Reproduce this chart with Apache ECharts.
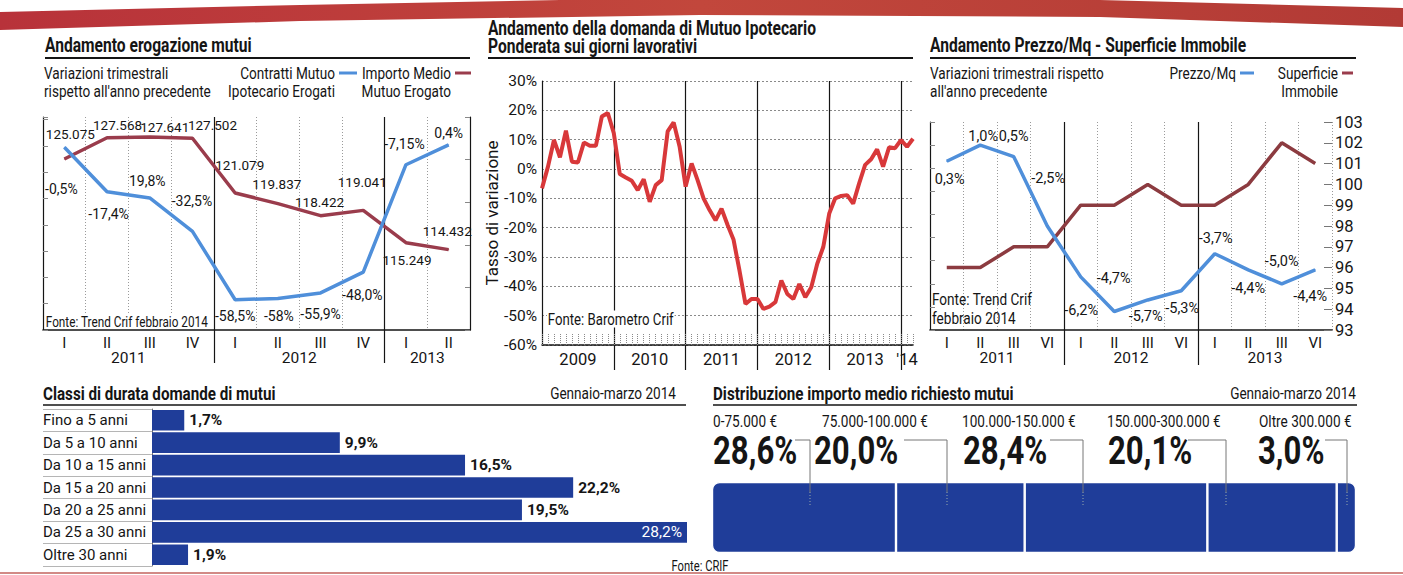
<!DOCTYPE html>
<html>
<head>
<meta charset="utf-8">
<title>Mutui - Trend CRIF</title>
<script src="https://cdn.jsdelivr.net/npm/echarts@6/dist/echarts.min.js"></script>
<style>
html, body { margin: 0; padding: 0; background: #fff; }
#chart { width: 1403px; height: 575px; }
</style>
</head>
<body>
<div id="chart"></div>
<script>
// --- dati: Andamento erogazione mutui
const quarters1 = ['I', 'II', 'III', 'IV', 'I', 'II', 'III', 'IV', 'I', 'II']
const years1 = ['', '', '2011', '', '', '', '2012', '', '', '2013', '']
const contratti = [-0.5, -17.4, -19.8, -32.5, -58.5, -58, -55.9, -48.0, -7.15, 0.4]
const contrattiText = ['-0,5%', '-17,4%', '19,8%', '-32,5%', '-58,5%', '-58%', '-55,9%', '-48,0%', '-7,15%', '0,4%']
const importo = [125075, 127568, 127641, 127502, 121079, 119837, 118422, 119041, 115249, 114432]

// --- dati: domanda di mutuo ipotecario (mensile)
const domandaYears = ['2009', '2010', '2011', '2012', '2013', "'14"]
const d2009 = [-6.6, 0.8, 9.9, 4.0, 13.1, 2.5, 2.2, 9.0, 7.9, 7.9, 17.9, 19.1]
const d2010 = [12.2, -1.7, -2.9, -4.0, -7.2, -3.5, -11.2, -5.5, -3.8, 12.8, 15.9, 7.6]
const d2011 = [-6.0, 1.9, -3.8, -10.0, -14.0, -17.5, -13.5, -19.0, -24.0, -34.6, -46.0, -44.3]
const d2012 = [-44.3, -47.7, -46.9, -45.4, -38.0, -42.6, -44.3, -39.2, -43.7, -40.3, -32.3, -26.6]
const d2013 = [-15.2, -10.0, -9.2, -8.9, -11.8, -4.9, 1.4, 3.3, 6.7, 0.8, 7.4, 7.1]
const d2014 = [9.9, 7.6, 10.3]

// --- dati: Prezzo/Mq - Superficie
const quarters3 = ['I', 'II', 'III', 'VI', 'I', 'II', 'III', 'VI', 'I', 'II', 'III', 'VI']
const years3 = ['', '', '2011', '', '', '', '2012', '', '', '', '2013', '', '']
const prezzo = [0.3, 1.0, 0.5, -2.5, -4.7, -6.2, -5.7, -5.3, -3.7, -4.4, -5.0, -4.4]
const superficie = [96, 96, 97, 97, 99, 99, 100, 99, 99, 100, 102, 101]

// --- dati: classi di durata
const durataCats = ['Fino a 5 anni', 'Da 5 a 10 anni', 'Da 10 a 15 anni', 'Da 15 a 20 anni', 'Da 20 a 25 anni', 'Da 25 a 30 anni', 'Oltre 30 anni']
const durataValues = [1.7, 9.9, 16.5, 22.2, 19.5, 28.2, 1.9]

// --- dati: distribuzione importo
const importoCats = ['0-75.000 €', '75.000-100.000 €', '100.000-150.000 €', '150.000-300.000 €', 'Oltre 300.000 €']
const importoShare = [28.6, 20.0, 28.4, 20.1, 3.0]

// posizioni delle etichette (solo stile)
const contrattiOff = [[-3, 42], [1.5, 22], [-2.5, -17], [-0.5, -30], [0, 16], [1, 17.5], [0, 20.6], [-1, 22.4], [-1.5, -21], [0, -11.4]]
const importoOff = [[6, -24.5], [10.5, -12.7], [15, -9.6], [20, -12.8], [4.6, -28.5], [-1, -20], [-1, -14], [-1, -28], [1, 17.3], [-1.4, -18.6]]
const prezzoOff = [[3, 18], [3, -9], [0, -20], [1, -48], [33, 2], [-33, -1.5], [-2, 16.5], [1, 18], [1, -15], [0, 18.6], [0, -22], [-5, 26.6]]
const distribTextX = [713, 822, 962, 1107, 1259]
const distribNumX = [713, 814, 963, 1108, 1258]
const distribLead = [[795, 810], [904, 947], [1050, 1083], [1188, 1226], [1325, 1347]]

const FONT = 'Roboto, "Liberation Sans", sans-serif'
const INK = '#151515'
const BLUE = '#4f8fda'
const MAROON = '#9a3c4c'
const NAVY = '#1f3d99'

const fmtPct = v => v.toFixed(1).replace('.', ',') + '%'
const fmtEuro = v => String(Math.floor(v / 1000)) + '.' + String(v % 1000).padStart(3, '0')

const months = []
domandaYears.forEach((y, i) => {
  const n = [d2009, d2010, d2011, d2012, d2013, d2014][i].length
  for (let m = 0; m < n; m++) months.push(y + '-' + (m + 1))
})
const domanda = [].concat(d2009, d2010, d2011, d2012, d2013, d2014)

// indici di inizio anno (per le linee verticali nere)
const yearStart = labels => (i) => i > 0 && i < labels.length && labels[i] === 'I'
const yearBoundary1 = yearStart(quarters1)
const yearBoundary3 = yearStart(quarters3)
const janIndex = (i) => i > 0 && i % 12 === 0

function yearLabel2(value, index) {
  const y = Math.floor(index / 12)
  const start = y * 12
  const count = Math.min(12, months.length - start)
  return index === start + Math.floor(count / 2) ? domandaYears[y] : ''
}

// testo condensato: font alto, compresso in orizzontale
function txt(x, y, text, o = {}) {
  return {
    type: 'text', x, y, z: 20, silent: true, scaleX: o.sx || 0.8,
    style: {
      text,
      font: (o.w || 'normal') + ' ' + (o.s || 17) + 'px ' + FONT,
      fill: o.c || INK,
      align: o.a || 'left',
      verticalAlign: 'middle',
      backgroundColor: o.bg,
      padding: o.bg ? [0, 1, 0, 1] : 0
    }
  }
}
function line(x1, y1, x2, y2, color = INK, w = 2, dash) {
  return { type: 'line', z: 20, silent: true, shape: { x1, y1, x2, y2 }, style: { stroke: color, lineWidth: w, lineDash: dash } }
}

const lbl = { fontFamily: FONT, fontSize: 14, color: INK }
const dotted = { color: '#9a9a9a', type: [1, 2], width: 1 }
const black = { color: INK, width: 1.2 }

const graphics = [
  // banda rossa in alto
  { type: 'polygon', silent: true, z: 1,
    shape: { points: [[0, 12], [300, 5], [560, 0], [1100, 0], [1403, 8], [1403, 27], [1100, 17], [700, 15], [300, 21], [0, 30]] },
    style: { fill: new echarts.graphic.LinearGradient(0, 0, 1, 0, [{ offset: 0, color: '#b8323a' }, { offset: 0.5, color: '#c2473c' }, { offset: 1, color: '#b23a35' }]) } },
  line(0, 573, 1403, 573, '#d28a86', 2),

  // grafico 1
  txt(45, 45, 'Andamento erogazione mutui', { w: 'bold', s: 19.5 }),
  line(45, 58, 470, 58),
  txt(44, 73, 'Variazioni trimestrali'),
  txt(44, 91, "rispetto all'anno precedente"),
  txt(335, 73, 'Contratti Mutuo', { a: 'right' }),
  txt(335, 91, 'Ipotecario Erogati', { a: 'right' }),
  line(339, 73, 357, 73, BLUE, 3),
  txt(451, 73, 'Importo Medio', { a: 'right' }),
  txt(451, 91, 'Mutuo Erogato', { a: 'right' }),
  line(455, 73, 471, 73, MAROON, 3),
  txt(45, 321, 'Fonte: Trend Crif febbraio 2014', { s: 15.5, sx: 0.76, bg: '#fff' }),

  // grafico 2
  txt(488, 28, 'Andamento della domanda di Mutuo Ipotecario', { w: 'bold', s: 19.5 }),
  txt(488, 46, 'Ponderata sui giorni lavorativi', { w: 'bold', s: 19.5 }),
  line(488, 58, 913, 58),
  txt(547, 319, 'Fonte: Barometro Crif', { s: 16.5, bg: '#fff' }),

  // grafico 3
  txt(930, 45, 'Andamento Prezzo/Mq - Superficie Immobile', { w: 'bold', s: 19.5 }),
  line(930, 58, 1356, 58),
  txt(930, 73, 'Variazioni trimestrali rispetto'),
  txt(930, 91, "all'anno precedente"),
  txt(1236, 73, 'Prezzo/Mq', { a: 'right' }),
  line(1240, 73, 1254, 73, BLUE, 3),
  txt(1338, 73, 'Superficie', { a: 'right' }),
  txt(1338, 91, 'Immobile', { a: 'right' }),
  line(1342, 73, 1353, 73, MAROON, 3),
  txt(932, 299, 'Fonte: Trend Crif'),
  txt(932, 318, 'febbraio 2014'),

  // classi di durata
  txt(43, 393, 'Classi di durata domande di mutui', { w: 'bold', s: 19 }),
  txt(676, 393, 'Gennaio-marzo 2014', { a: 'right' }),
  line(43, 405, 686, 405, INK, 1.5),

  // distribuzione importo
  txt(713, 393, 'Distribuzione importo medio richiesto mutui', { w: 'bold', s: 19 }),
  txt(1356, 393, 'Gennaio-marzo 2014', { a: 'right' }),
  line(713, 405, 1357, 405, INK, 1.5),
  txt(700, 566, 'Fonte: CRIF', { s: 14, a: 'center' })
]

importoCats.forEach((c, i) => {
  const [x0, x1] = distribLead[i]
  graphics.push(txt(distribTextX[i], 421, c))
  graphics.push(txt(distribNumX[i], 451, fmtPct(importoShare[i]), { w: 'bold', s: 38, sx: 0.82 }))
  graphics.push(line(x0, 440, x1, 440, '#777', 1))
  graphics.push(line(x1, 440, x1, 492, '#777', 1))
  graphics.push(line(x1, 492, x1, 506, '#9aa', 1, [1, 2]))
})

const distribTotal = importoShare.reduce((a, b) => a + b, 0)
const distribSeries = importoShare.map((v, i) => ({
  type: 'bar', name: importoCats[i], stack: 'distrib', xAxisIndex: 8, yAxisIndex: 7,
  barWidth: '100%', data: [v],
  itemStyle: {
    color: NAVY, borderColor: '#fff', borderWidth: 1.2,
    borderRadius: i === 0 ? [7, 0, 0, 7] : (i === importoShare.length - 1 ? [0, 7, 7, 0] : 0)
  }
}))

const durataMax = Math.max(...durataValues)

const option = {
  animation: false,
  textStyle: { fontFamily: FONT },
  graphic: graphics,
  grid: [
    { left: 43, top: 117, width: 427, height: 213, outerBoundsMode: 'none' },
    { left: 542, top: 81, width: 371, height: 264, outerBoundsMode: 'none' },
    { left: 930, top: 122, width: 402, height: 208, outerBoundsMode: 'none' },
    { left: 152, top: 409, width: 535, height: 157, outerBoundsMode: 'none' },
    { left: 43, top: 409, width: 109, height: 157, outerBoundsMode: 'none' },
    { left: 712, top: 482, width: 644, height: 71, outerBoundsMode: 'none' }
  ],
  xAxis: [
    { gridIndex: 0, type: 'category', data: quarters1, position: 'bottom',
      axisLine: { onZero: false, lineStyle: { color: INK, width: 1.5 } }, axisTick: { show: false },
      axisLabel: Object.assign({ margin: 5 }, lbl, { fontSize: 15 }), splitLine: { show: true, lineStyle: dotted } },
    { gridIndex: 0, type: 'category', boundaryGap: false, data: years1, position: 'bottom',
      axisLine: { show: false, onZero: false },
      axisTick: { show: true, interval: yearBoundary1, length: 33, lineStyle: black },
      axisLabel: Object.assign({ interval: 0, margin: 20 }, lbl, { fontSize: 15.5 }),
      splitLine: { show: true, interval: yearBoundary1, lineStyle: black } },

    { gridIndex: 1, type: 'category', boundaryGap: false, data: months, position: 'bottom',
      axisLine: { onZero: false, lineStyle: { color: INK, width: 1.5 } },
      axisTick: { show: true, inside: true, interval: 0, length: 11, lineStyle: { color: '#8a8a8a', type: [1, 1] } },
      axisLabel: { show: false }, splitLine: { show: false } },
    { gridIndex: 1, type: 'category', boundaryGap: false, data: months, position: 'bottom',
      axisLine: { show: false, onZero: false },
      axisTick: { show: true, interval: janIndex, length: 25, lineStyle: black },
      axisLabel: Object.assign({ interval: 0, margin: 6, formatter: yearLabel2 }, lbl, { fontSize: 16.5 }),
      splitLine: { show: true, interval: janIndex, lineStyle: black } },

    { gridIndex: 2, type: 'category', data: quarters3, position: 'bottom',
      axisLine: { onZero: false, lineStyle: { color: INK, width: 1.5 } }, axisTick: { show: false },
      axisLabel: Object.assign({ margin: 5 }, lbl, { fontSize: 15 }), splitLine: { show: true, lineStyle: dotted } },
    { gridIndex: 2, type: 'category', boundaryGap: false, data: years3, position: 'bottom',
      axisLine: { show: false, onZero: false },
      axisTick: { show: true, interval: yearBoundary3, length: 35, lineStyle: black },
      axisLabel: Object.assign({ interval: 0, margin: 20 }, lbl, { fontSize: 15.5 }),
      splitLine: { show: true, interval: yearBoundary3, lineStyle: black } },

    { gridIndex: 3, type: 'value', min: 0, max: durataMax, show: false },
    { gridIndex: 4, type: 'value', min: 0, max: 1, show: false },
    { gridIndex: 5, type: 'value', min: 0, max: distribTotal, show: false }
  ],
  yAxis: [
    { gridIndex: 0, type: 'value', min: -70, max: 11, interval: 10,
      axisLine: { show: true, onZero: false, lineStyle: black },
      axisTick: { show: true, inside: true, length: 5, lineStyle: { color: '#888' } },
      axisLabel: { show: false }, splitLine: { show: false } },
    { gridIndex: 0, type: 'value', position: 'right', min: 105000, max: 130000, interval: 5000,
      axisLine: { show: true, onZero: false, lineStyle: black },
      axisTick: { show: true, inside: true, length: 5, lineStyle: { color: '#888' } },
      axisLabel: { show: false }, splitLine: { show: false } },

    { gridIndex: 1, type: 'value', min: -60, max: 30, interval: 10,
      axisLine: { show: true, onZero: false, lineStyle: black }, axisTick: { show: false },
      axisLabel: Object.assign({ formatter: '{value}%', margin: 5 }, lbl, { fontSize: 15.5 }),
      splitLine: { show: true, lineStyle: { color: '#8a8a8a', type: [2, 2] } },
      name: 'Tasso di variazione', nameLocation: 'middle', nameRotate: 90, nameGap: 35,
      nameTextStyle: { fontFamily: FONT, fontSize: 17, color: INK } },

    { gridIndex: 2, type: 'value', min: -7, max: 2, interval: 1,
      axisLine: { show: true, onZero: false, lineStyle: black },
      axisTick: { show: true, inside: true, length: 5, lineStyle: { color: '#888' } },
      axisLabel: { show: false }, splitLine: { show: false } },
    { gridIndex: 2, type: 'value', position: 'right', min: 93, max: 103, interval: 1,
      axisLine: { show: false, onZero: false },
      axisTick: { show: true, inside: true, length: 8, lineStyle: { color: '#777' } },
      axisLabel: Object.assign({ margin: 3 }, lbl, { fontSize: 16.5 }), splitLine: { show: false } },

    { gridIndex: 3, type: 'category', data: durataCats, inverse: true,
      axisLine: { show: true, onZero: false, lineStyle: { color: '#777', width: 1 } }, axisTick: { show: false },
      axisLabel: Object.assign({ align: 'left', margin: 109 }, lbl, { fontSize: 15 }) },
    { gridIndex: 4, type: 'category', data: durataCats, inverse: true,
      axisLine: { show: false }, axisTick: { show: false }, axisLabel: { show: false },
      splitLine: { show: true, lineStyle: { color: '#b5b5b5', width: 1 } } },
    { gridIndex: 5, type: 'category', data: ['importo'], show: false }
  ],
  series: [
    { name: 'Contratti Mutuo Ipotecario Erogati', type: 'line', xAxisIndex: 0, yAxisIndex: 0,
      symbol: 'circle', symbolSize: 1, z: 4,
      itemStyle: { color: BLUE }, lineStyle: { color: BLUE, width: 3.5 },
      label: Object.assign({ show: true, position: 'inside' }, lbl, { fontSize: 14 }),
      data: contratti.map((v, i) => ({ value: v, label: { formatter: contrattiText[i], offset: contrattiOff[i] } })) },
    { name: 'Importo Medio Mutuo Erogato', type: 'line', xAxisIndex: 0, yAxisIndex: 1,
      symbol: 'circle', symbolSize: 1, z: 3,
      itemStyle: { color: MAROON }, lineStyle: { color: MAROON, width: 3.5 },
      label: Object.assign({ show: true, position: 'inside' }, lbl, { fontSize: 13.5 }),
      data: importo.map((v, i) => ({ value: v, label: { formatter: fmtEuro(v), offset: importoOff[i] } })) },

    { name: 'Domanda', type: 'line', xAxisIndex: 2, yAxisIndex: 2, symbol: 'none',
      lineStyle: { color: '#d8383a', width: 4 }, data: domanda },

    { name: 'Prezzo/Mq', type: 'line', xAxisIndex: 4, yAxisIndex: 3,
      symbol: 'circle', symbolSize: 1, z: 4,
      itemStyle: { color: BLUE }, lineStyle: { color: BLUE, width: 3.5 },
      label: Object.assign({ show: true, position: 'inside' }, lbl, { fontSize: 14.5 }),
      data: prezzo.map((v, i) => ({ value: v, label: { formatter: fmtPct(v), offset: prezzoOff[i] } })) },
    { name: 'Superficie Immobile', type: 'line', xAxisIndex: 4, yAxisIndex: 4, symbol: 'none', z: 3,
      lineStyle: { color: '#8c3b40', width: 3.5 }, data: superficie },

    { name: 'Classi di durata', type: 'bar', xAxisIndex: 6, yAxisIndex: 5,
      barCategoryGap: '8%', itemStyle: { color: NAVY },
      data: durataValues.map(v => v === durataMax
        ? { value: v, label: { position: 'insideRight', color: '#fff', fontWeight: 'normal', distance: 5 } }
        : v),
      label: { show: true, position: 'right', distance: 5, fontFamily: FONT, fontSize: 15.5, fontWeight: 'bold', color: INK,
        formatter: p => fmtPct(p.value) } }
  ].concat(distribSeries)
}

const chart = echarts.init(document.getElementById('chart'), null, { renderer: 'svg' })
chart.setOption(option)
</script>
</body>
</html>
